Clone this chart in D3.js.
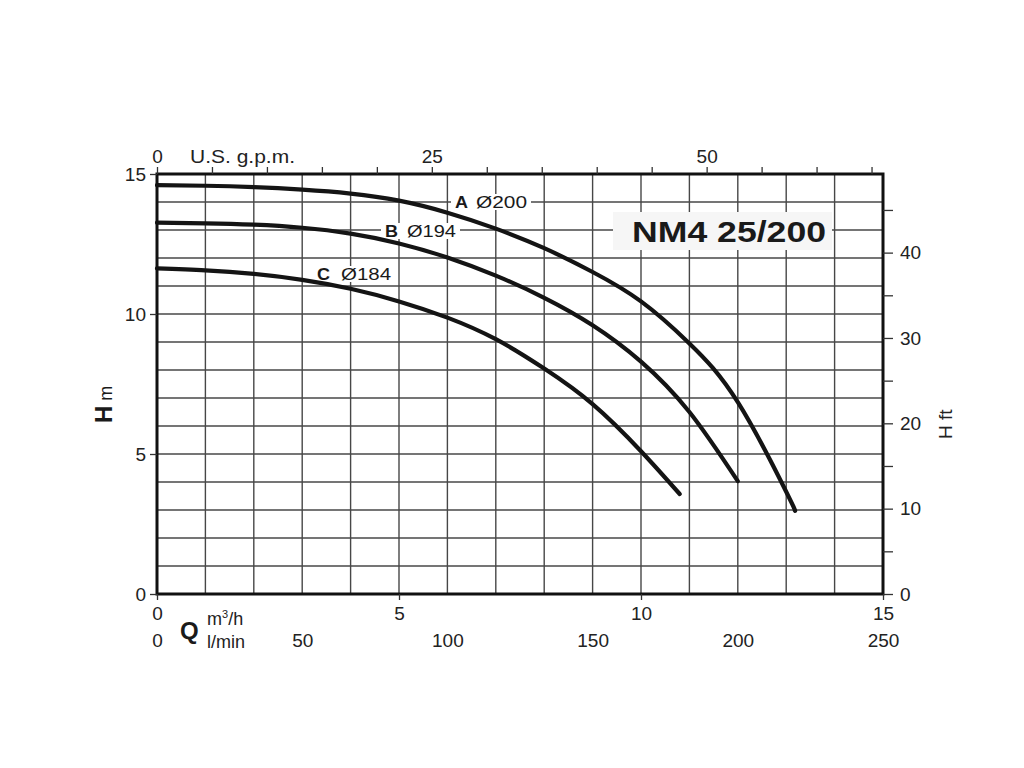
<!DOCTYPE html>
<html>
<head>
<meta charset="utf-8">
<script src="https://cdn.jsdelivr.net/npm/d3@7/dist/d3.min.js"></script>
<style>
  html, body { margin: 0; padding: 0; background: #fff; }
  svg { display: block; font-family: "Liberation Sans", Arial, Helvetica, sans-serif; }
</style>
</head>
<body>
<svg id="chart" width="1024" height="768"></svg>
<script>
// ---- data ----
const curveNames = ["A", "B", "C"];
const curveDiameters = ["Ø200", "Ø194", "Ø184"];
const qA = [0, 1, 2, 3, 4, 5, 6, 7, 8, 9, 10, 11, 12, 13, 13.18];
const hA = [14.6, 14.58, 14.53, 14.44, 14.3, 14.05, 13.62, 13.05, 12.35, 11.5, 10.45, 8.95, 6.85, 3.65, 2.98];
const qB = [0, 1, 2, 3, 4, 5, 6, 7, 8, 9, 10, 11, 12.0];
const hB = [13.26, 13.24, 13.19, 13.08, 12.87, 12.52, 12.02, 11.37, 10.58, 9.6, 8.3, 6.5, 4.03];
const qC = [0, 1, 2, 3, 4, 5, 6, 7, 8, 9, 10, 10.8];
const hC = [11.63, 11.56, 11.43, 11.22, 10.9, 10.45, 9.87, 9.1, 8.05, 6.78, 5.1, 3.57];
const hTicks = [0, 5, 10, 15];
const qTicks = [0, 5, 10, 15];
const lminTicks = [0, 50, 100, 150, 200, 250];
const gpmTicks = [0, 5, 10, 15, 20, 25, 30, 35, 40, 45, 50, 55, 60, 65];
const gpmLabels = [0, 25, 50];
const ftTicks = [0, 5, 10, 15, 20, 25, 30, 35, 40, 45];
const ftLabels = [0, 10, 20, 30, 40];
const title = "NM4 25/200";

// ---- layout ----
const L = 157, R = 883, T = 174, B = 594;
const svg = d3.select("#chart");
const x = d3.scaleLinear().domain([0, 15]).range([L, R]);
const y = d3.scaleLinear().domain([0, 15]).range([B, T]);
const xGpm = d3.scaleLinear().domain([0, 15 / 0.227125]).range([L, R]);
const xLmin = d3.scaleLinear().domain([0, 250]).range([L, R]);
const yFt = d3.scaleLinear().domain([0, 15 * 3.28084]).range([B, T]);

const gridColor = "#474747";
const font = "\"Liberation Sans\", Arial, Helvetica, sans-serif";

// grid
const grid = svg.append("g");
grid.selectAll("line.v").data(d3.range(1, 15)).join("line")
  .attr("x1", d => x(d)).attr("x2", d => x(d)).attr("y1", T).attr("y2", B)
  .attr("stroke", gridColor).attr("stroke-width", 1.4);
grid.selectAll("line.h").data(d3.range(1, 15)).join("line")
  .attr("x1", L).attr("x2", R).attr("y1", d => y(d)).attr("y2", d => y(d))
  .attr("stroke", gridColor).attr("stroke-width", 1.4);

// title box
svg.append("rect").attr("x", 613).attr("y", 212).attr("width", 219).attr("height", 38).attr("fill", "#f6f6f6");
svg.append("text").attr("x", 632).attr("y", 242)
  .attr("font-size", 30).attr("font-weight", "bold").attr("fill", "#1a1a1a")
  .attr("textLength", 194).attr("lengthAdjust", "spacingAndGlyphs")
  .text(title);

// label backgrounds
const labelPos = [
  { xa: 455, xd: 476, wd: 51, yc: 202 },
  { xa: 385, xd: 407, wd: 49, yc: 231 },
  { xa: 317, xd: 341, wd: 50, yc: 274 }
];
labelPos.forEach(p => {
  svg.append("rect").attr("x", p.xa - 4).attr("y", p.yc - 8)
    .attr("width", p.xd + p.wd - p.xa + 8).attr("height", 16).attr("fill", "#fff");
});

// curves
const line = d3.line().x(d => x(d[0])).y(d => y(d[1])).curve(d3.curveNatural);
const series = [[qA, hA], [qB, hB], [qC, hC]];
svg.append("g").selectAll("path").data(series).join("path")
  .attr("d", s => line(s[0].map((q, i) => [q, s[1][i]])))
  .attr("fill", "none").attr("stroke", "#141414").attr("stroke-width", 4.2)
  .attr("stroke-linecap", "round");

// label texts
labelPos.forEach((p, i) => {
  svg.append("text").attr("x", p.xa).attr("y", p.yc + 6)
    .attr("font-size", 16).attr("font-weight", "bold").attr("fill", "#1a1a1a")
    .attr("textLength", 13).attr("lengthAdjust", "spacingAndGlyphs")
    .text(curveNames[i]);
  svg.append("text").attr("x", p.xd).attr("y", p.yc + 6)
    .attr("font-size", 16).attr("fill", "#1a1a1a")
    .attr("textLength", p.wd).attr("lengthAdjust", "spacingAndGlyphs")
    .text(curveDiameters[i]);
});

// frame
svg.append("rect").attr("x", L).attr("y", T).attr("width", R - L).attr("height", B - T)
  .attr("fill", "none").attr("stroke", "#111").attr("stroke-width", 3);

function styleAxis(g, size) {
  g.select(".domain").remove();
  g.selectAll(".tick line").attr("stroke", "#333").attr("stroke-width", 1.3);
  g.selectAll(".tick text").attr("font-size", size).attr("fill", "#222").attr("font-family", font);
}

// left H m axis
svg.append("g").attr("transform", `translate(${L},0)`)
  .call(d3.axisLeft(y).tickValues(hTicks).tickSize(7).tickPadding(4).tickFormat(d3.format("d")))
  .call(g => styleAxis(g, 19));

// right H ft axis
svg.append("g").attr("transform", `translate(${R},0)`)
  .call(d3.axisRight(yFt).tickValues(ftTicks).tickSize(10).tickPadding(7)
    .tickFormat(d => ftLabels.includes(d) ? d : ""))
  .call(g => styleAxis(g, 19));

// top gpm axis
svg.append("g").attr("transform", `translate(0,${T})`)
  .call(d3.axisTop(xGpm).tickValues(gpmTicks).tickSize(7).tickPadding(4)
    .tickFormat(d => gpmLabels.includes(d) ? d : ""))
  .call(g => styleAxis(g, 19));
svg.append("text").attr("x", 190).attr("y", 163).attr("font-size", 19).attr("fill", "#222")
  .attr("textLength", 105).attr("lengthAdjust", "spacingAndGlyphs")
  .text("U.S. g.p.m.");

// bottom m3/h axis
svg.append("g").attr("transform", `translate(0,${B})`)
  .call(d3.axisBottom(x).tickValues(qTicks).tickSize(6).tickPadding(7).tickFormat(d3.format("d")))
  .call(g => styleAxis(g, 19));

// l/min axis
svg.append("g").attr("transform", `translate(0,630)`)
  .call(d3.axisBottom(xLmin).tickValues(lminTicks).tickSize(0).tickPadding(4).tickFormat(d3.format("d")))
  .call(g => styleAxis(g, 19));

// Q label
svg.append("text").attr("x", 180).attr("y", 639).attr("font-size", 24).attr("font-weight", "bold")
  .attr("fill", "#1a1a1a").text("Q");
const m3 = svg.append("text").attr("x", 207).attr("y", 625).attr("font-size", 18).attr("fill", "#222");
m3.append("tspan").text("m");
m3.append("tspan").attr("font-size", 11).attr("dy", -7).text("3");
m3.append("tspan").attr("dy", 7).text("/h");
svg.append("text").attr("x", 207).attr("y", 648).attr("font-size", 18).attr("fill", "#222").text("l/min");

// H m label
const hm = svg.append("text").attr("transform", "translate(112,423) rotate(-90)").attr("fill", "#1a1a1a");
hm.append("tspan").attr("font-size", 24).attr("font-weight", "bold").text("H");
hm.append("tspan").attr("font-size", 18).attr("dx", 5).text("m");

// H ft label
svg.append("text").attr("transform", "translate(952,439) rotate(-90)")
  .attr("font-size", 19).attr("fill", "#222").text("H ft");
</script>
</body>
</html>
